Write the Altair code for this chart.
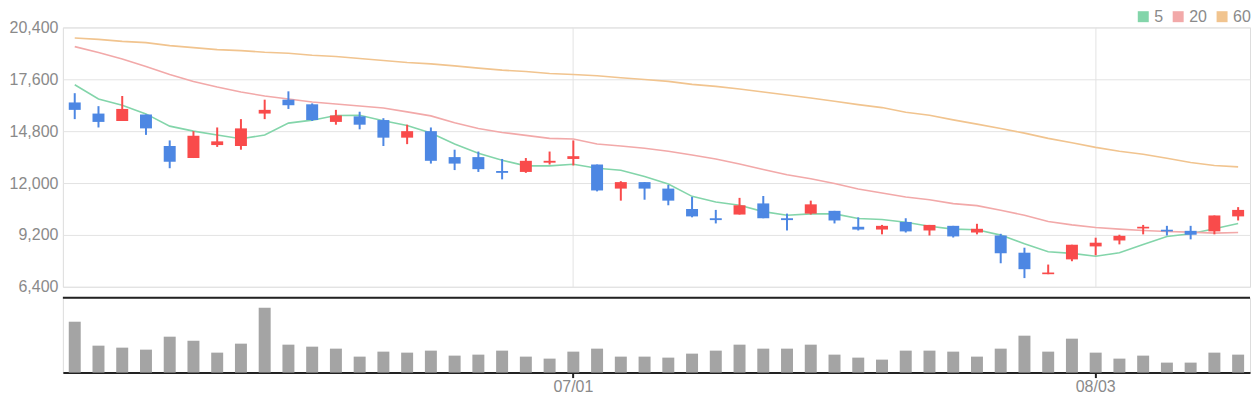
import altair as alt
import pandas as pd

# ---- data ----
dates = ["06/02", "06/03", "06/06", "06/07", "06/08", "06/09", "06/10", "06/13", "06/14", "06/15",
         "06/16", "06/17", "06/20", "06/21", "06/22", "06/23", "06/24", "06/27", "06/28", "06/29",
         "06/30", "07/01", "07/04", "07/05", "07/06", "07/07", "07/08", "07/11", "07/12", "07/13",
         "07/14", "07/15", "07/19", "07/20", "07/21", "07/22", "07/25", "07/26", "07/27", "07/28",
         "07/29", "08/01", "08/02", "08/03", "08/04", "08/05", "08/08", "08/09", "08/10", "08/11"]

open_ = [16350, 15750, 15350, 15700, 14000, 13350, 14050, 14000, 15750, 16500,
         16250, 15300, 15600, 15400, 14450, 14800, 13400, 13400, 12650, 12600,
         13100, 13300, 13000, 11700, 12050, 11700, 10600, 10100, 10300, 10900,
         10100, 10350, 10500, 9640, 9490, 9900, 9440, 9690, 9330, 9170,
         8240, 7080, 7880, 8580, 8900, 9550, 9480, 9420, 9390, 10200]
close = [15950, 15300, 16000, 14950, 13150, 14550, 14250, 14950, 15950, 16200,
         15400, 15650, 15150, 14450, 14800, 13200, 13050, 12750, 12550, 13200,
         13200, 13450, 11600, 12050, 11700, 11050, 10200, 10000, 10800, 10100,
         10000, 10850, 9980, 9490, 9690, 9390, 9740, 9120, 9530, 8210,
         7350, 7170, 8670, 8780, 9150, 9640, 9390, 9210, 10250, 10550]
high = [16850, 16150, 16700, 15700, 14300, 14800, 15000, 15450, 16500, 16950,
        16300, 15950, 15850, 15500, 15150, 15000, 13800, 13700, 13300, 13350,
        13700, 14300, 13000, 12100, 12050, 11900, 11250, 10550, 11200, 11300,
        10350, 11050, 10500, 10150, 9740, 10100, 9740, 9690, 9800, 9260,
        8510, 7600, 8670, 9050, 9210, 9740, 9690, 9690, 10250, 10700]
low = [15450, 15000, 15350, 14600, 12800, 13350, 13950, 13800, 15450, 16000,
       15350, 15150, 14900, 14000, 14100, 13050, 12700, 12600, 12200, 12550,
       13000, 12950, 11550, 11050, 11100, 10800, 10150, 9820, 10300, 10100,
       9440, 10300, 9820, 9440, 9230, 9330, 9170, 9060, 9230, 7670,
       6870, 7080, 7780, 8100, 8690, 9230, 9170, 8960, 9230, 9980]
volume = [1530000, 810000, 750000, 690000, 1080000, 960000, 600000, 870000, 1950000, 840000,
          780000, 720000, 480000, 630000, 600000, 660000, 510000, 540000, 660000, 480000,
          420000, 630000, 720000, 480000, 480000, 450000, 570000, 660000, 840000, 720000,
          720000, 840000, 540000, 450000, 390000, 660000, 660000, 630000, 480000, 720000,
          1110000, 630000, 1020000, 600000, 420000, 510000, 300000, 300000, 600000, 540000]

ma5 = [17307, 16538, 16198, 15733, 15072, 14804, 14589, 14392, 14589, 15233,
       15394, 15644, 15662, 15358, 15108, 14696, 14106, 13606, 13230, 12926,
       12926, 13016, 12801, 12694, 12354, 11943, 11281, 10977, 10798, 10459,
       10262, 10334, 10334, 10083, 10030, 9887, 9672, 9511, 9475, 9189,
       8724, 8295, 8206, 8045, 8242, 8689, 9118, 9261, 9529, 9815]
ma20 = [19363, 19041, 18701, 18290, 17861, 17486, 17182, 16913, 16699, 16538,
        16377, 16270, 16162, 16055, 15841, 15626, 15251, 14947, 14732, 14571,
        14410, 14374, 14106, 13999, 13874, 13713, 13516, 13302, 13033, 12729,
        12443, 12229, 11979, 11675, 11460, 11245, 11102, 10888, 10781, 10530,
        10262, 9922, 9744, 9600, 9511, 9440, 9386, 9350, 9297, 9332]
ma60 = [19828, 19756, 19649, 19578, 19417, 19309, 19202, 19148, 19059, 19005,
        18898, 18827, 18719, 18612, 18505, 18433, 18326, 18201, 18093, 18022,
        17915, 17861, 17790, 17682, 17593, 17486, 17325, 17217, 17074, 16913,
        16752, 16592, 16413, 16234, 16073, 15823, 15662, 15411, 15179, 14947,
        14696, 14410, 14178, 13927, 13713, 13552, 13337, 13105, 12944, 12873]

ma_names = ["5", "20", "60"]
price_ticks = [6400, 9200, 12000, 14800, 17600, 20400]
date_ticks = ["07/01", "08/03"]

# ---- styling ----
RED = "#f94b4b"
BLUE = "#4d87e3"
MA_COLORS = ["#83d5aa", "#f2a9a9", "#f1c48f"]
GRID = "#e3e3e3"
LABEL = "#8a8a8a"
DARK = "#222222"
FONT = "Liberation Sans"
W = 1190

df = pd.DataFrame({"date": dates, "open": open_, "high": high, "low": low,
                   "close": close, "volume": volume})
ma_df = pd.DataFrame({
    "date": dates * 3,
    "ma": [ma_names[0]] * len(ma5) + [ma_names[1]] * len(ma20) + [ma_names[2]] * len(ma60),
    "value": ma5 + ma20 + ma60,
})

band = alt.Scale(paddingInner=0, paddingOuter=0)

x_price = alt.X("date:O", sort=dates, scale=band,
                axis=alt.Axis(values=date_ticks, labels=False, ticks=False, domain=False,
                              grid=True, gridColor=GRID, title=None, bandPosition=0.5,
                              minExtent=0, maxExtent=0))

price_scale = alt.Scale(domain=[6400, 20400], nice=False, zero=False)
price_axis = alt.Axis(values=price_ticks, format=",d", labelFontSize=16, labelColor=LABEL,
                      labelFont=FONT, ticks=False, domain=False, gridColor=GRID,
                      labelPadding=5, minExtent=54, maxExtent=54, title=None)

candle_color = alt.condition("datum.close >= datum.open", alt.value(RED), alt.value(BLUE))

lines = alt.Chart(ma_df).mark_line(strokeWidth=1.6).encode(
    x=x_price,
    y=alt.Y("value:Q", scale=price_scale, axis=price_axis),
    color=alt.Color("ma:N", sort=ma_names,
                    scale=alt.Scale(domain=ma_names, range=MA_COLORS),
                    legend=alt.Legend(orient="none", legendX=1075, legendY=-19,
                                      direction="horizontal", symbolType="square",
                                      symbolSize=25, symbolStrokeWidth=6,
                                      labelFontSize=16, labelColor=LABEL, labelFont=FONT,
                                      labelOffset=3, columnPadding=0, title=None)),
)

wicks = alt.Chart(df).mark_rule(strokeWidth=2).encode(
    x=x_price,
    y=alt.Y("low:Q", scale=price_scale, axis=price_axis),
    y2="high:Q",
    color=candle_color,
)

bodies = alt.Chart(df).mark_bar(size=12).encode(
    x=x_price,
    y=alt.Y("open:Q", scale=price_scale, axis=price_axis),
    y2="close:Q",
    color=candle_color,
)

price = alt.layer(lines, wicks, bodies).properties(width=W, height=260)

x_vol = alt.X("date:O", sort=dates, scale=band,
              axis=alt.Axis(values=date_ticks, labelAngle=0, labelFontSize=16,
                            labelColor=LABEL, labelFont=FONT, tickColor=DARK, tickWidth=2,
                            tickSize=5, domainColor=DARK, domainWidth=2, labelPadding=1,
                            grid=False, title=None, bandPosition=0.5))

vol_bars = alt.Chart(df).mark_bar(size=12, color="#a4a4a4").encode(
    x=x_vol,
    y=alt.Y("volume:Q", scale=alt.Scale(domain=[0, 2250000], nice=False),
            axis=alt.Axis(labels=False, ticks=False, domain=False, grid=False, title=None,
                          minExtent=54, maxExtent=54)),
)

top_line = alt.Chart(pd.DataFrame({"v": [0]})).mark_rule(color=DARK, strokeWidth=2).encode(
    y=alt.value(0)
)

vol = alt.layer(vol_bars, top_line).properties(width=W, height=75)

chart = alt.vconcat(price, vol, spacing=0).properties(padding=0).configure_view(
    stroke=None
).configure(background="white")

chart.save("out.html", embed_options={"renderer": "svg", "actions": False})
